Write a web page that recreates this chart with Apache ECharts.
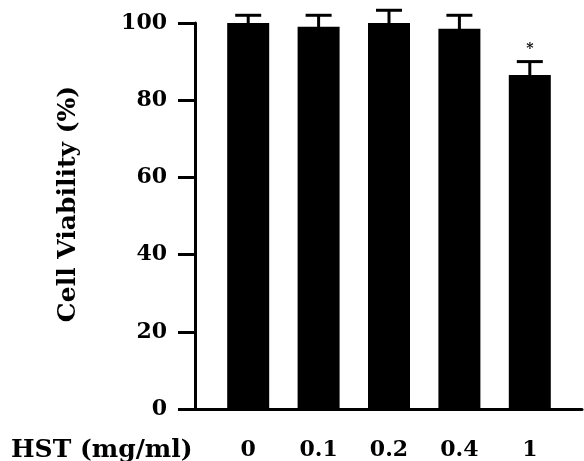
<!DOCTYPE html>
<html>
<head>
<meta charset="utf-8">
<script src="https://cdn.jsdelivr.net/npm/echarts@6/dist/echarts.min.js"></script>
<style>
html,body{margin:0;padding:0;background:#fff;}
#chart{width:584px;height:461px;}
</style>
</head>
<body>
<div id="chart"></div>
<script>
var categories = ["0", "0.1", "0.2", "0.4", "1"];
var values = [100, 99, 100, 98.5, 86.5];
var errors = [2, 3, 3.3, 3.5, 3.5];
var signif = ["", "", "", "", "*"];
var yTicks = [0, 20, 40, 60, 80, 100];
var xTitle = "HST (mg/ml)";
var yTitle = "Cell Viability (%)";

var FONT = "DejaVu Serif";
var chart = echarts.init(document.getElementById('chart'), null, {renderer: 'canvas'});

var option = {
  animation: false,
  backgroundColor: '#fff',
  title: {
    text: xTitle,
    left: 11, top: 438,
    padding: 0,
    textStyle: {fontFamily: FONT, fontWeight: 'bold', fontSize: 25, color: '#000'}
  },
  grid: [
    {left: 213, right: 19, top: 23, bottom: 52},
    {left: 195, right: 2, top: 23, bottom: 52}
  ],
  xAxis: [
    {
      type: 'category', gridIndex: 0, data: categories,
      axisLine: {show: false}, axisTick: {show: false},
      axisLabel: {margin: 30, color: '#000', fontFamily: FONT, fontWeight: 'bold', fontSize: 22}
    },
    {
      type: 'value', gridIndex: 1, min: 0, max: 1,
      axisLine: {show: true, lineStyle: {color: '#000', width: 3}},
      axisTick: {show: false}, axisLabel: {show: false}, splitLine: {show: false}
    }
  ],
  yAxis: [
    {
      type: 'value', gridIndex: 0, min: yTicks[0], max: yTicks[yTicks.length - 1], interval: 20,
      offset: 18,
      name: yTitle, nameLocation: 'middle', nameGap: 114,
      nameTextStyle: {fontFamily: FONT, fontWeight: 'bold', fontSize: 25, color: '#000', padding: [0, 0, 0, 24]},
      axisLine: {show: true, lineStyle: {color: '#000', width: 3}},
      axisTick: {show: true, length: 17, lineStyle: {color: '#000', width: 3}},
      axisLabel: {margin: 28, color: '#000', fontFamily: FONT, fontWeight: 'bold', fontSize: 22},
      splitLine: {show: false}
    },
    {type: 'value', gridIndex: 1, min: 0, max: 1, show: false}
  ],
  series: [
    {
      type: 'bar', xAxisIndex: 0, yAxisIndex: 0,
      data: values, barWidth: 42,
      itemStyle: {color: '#000'}, z: 2
    },
    {
      type: 'custom', xAxisIndex: 0, yAxisIndex: 0, z: 3,
      data: categories.map(function (c, i) { return [i, values[i], errors[i]]; }),
      renderItem: function (params, api) {
        var x = api.value(0), v = api.value(1), e = api.value(2);
        var base = api.coord([x, v]);
        var top = api.coord([x, v + e]);
        var hw = 13;
        var st = {stroke: '#000', lineWidth: 3};
        var children = [
          {type: 'line', shape: {x1: base[0], y1: base[1] + 2, x2: top[0], y2: top[1]}, style: st},
          {type: 'line', shape: {x1: top[0] - hw, y1: top[1], x2: top[0] + hw, y2: top[1]}, style: st}
        ];
        var s = signif[params.dataIndex];
        if (s) {
          children.push({type: 'text', style: {text: s, x: top[0], y: top[1] - 5, align: 'center', verticalAlign: 'bottom', font: 'bold 14px "DejaVu Serif"', fill: '#000'}});
        }
        return {type: 'group', children: children};
      }
    }
  ]
};
chart.setOption(option);
</script>
</body>
</html>
